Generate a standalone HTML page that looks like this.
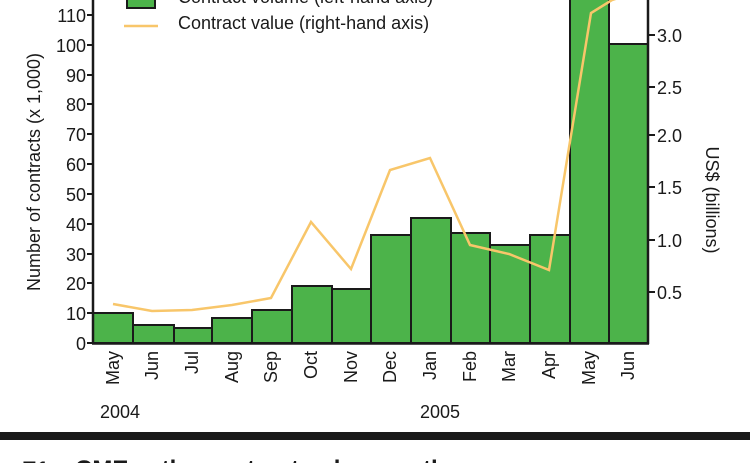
<!DOCTYPE html>
<html><head><meta charset="utf-8"><style>
html,body{margin:0;padding:0;background:#fff;width:750px;height:463px;overflow:hidden}
svg text{font-family:"Liberation Sans",sans-serif;fill:#1a1a1a}
</style></head><body>
<svg width="750" height="463" viewBox="0 0 750 463" xmlns="http://www.w3.org/2000/svg">
<rect width="750" height="463" fill="#fff"/>
<g fill="#4cb34a" stroke="#1a1a1a" stroke-width="2">
<rect x="93" y="313" width="40" height="30"/>
<rect x="133" y="325" width="41" height="18"/>
<rect x="174" y="328" width="38" height="15"/>
<rect x="212" y="318" width="40" height="25"/>
<rect x="252" y="310" width="40" height="33"/>
<rect x="292" y="286" width="40" height="57"/>
<rect x="332" y="289" width="39" height="54"/>
<rect x="371" y="235" width="40" height="108"/>
<rect x="411" y="218" width="40" height="125"/>
<rect x="451" y="233" width="39" height="110"/>
<rect x="490" y="245" width="40" height="98"/>
<rect x="530" y="235" width="40" height="108"/>
<rect x="570" y="-5" width="39" height="348"/>
<rect x="609" y="44" width="39" height="299"/>
<rect x="609" y="-5" width="39" height="49" fill="#fff"/>
</g>
<polyline fill="none" stroke="#f8c66a" stroke-width="2.5" points="113,304 152,311 192,310 232,305 271,298 311,222 351,269 390,170 430,158 470,245 509,254 549,270 591,13 612,0 628,-5"/>
<line x1="93" y1="0" x2="93" y2="344" stroke="#1a1a1a" stroke-width="2.5"/>
<line x1="92" y1="343.5" x2="649" y2="343.5" stroke="#1a1a1a" stroke-width="2.5"/>
<line x1="648" y1="0" x2="648" y2="344" stroke="#1a1a1a" stroke-width="2.5"/>
<g stroke="#1a1a1a" stroke-width="2">
<line x1="87" y1="343" x2="93" y2="343"/><line x1="87" y1="313" x2="93" y2="313"/><line x1="87" y1="283" x2="93" y2="283"/><line x1="87" y1="254" x2="93" y2="254"/><line x1="87" y1="224" x2="93" y2="224"/><line x1="87" y1="194" x2="93" y2="194"/><line x1="87" y1="164" x2="93" y2="164"/><line x1="87" y1="134" x2="93" y2="134"/><line x1="87" y1="104" x2="93" y2="104"/><line x1="87" y1="75" x2="93" y2="75"/><line x1="87" y1="45" x2="93" y2="45"/><line x1="87" y1="15" x2="93" y2="15"/>
<line x1="648" y1="292" x2="655" y2="292"/><line x1="648" y1="240" x2="655" y2="240"/><line x1="648" y1="187" x2="655" y2="187"/><line x1="648" y1="135" x2="655" y2="135"/><line x1="648" y1="87" x2="655" y2="87"/><line x1="648" y1="35" x2="655" y2="35"/>
</g>
<g font-size="18" text-anchor="end">
<text x="86" y="350">0</text><text x="86" y="320">10</text><text x="86" y="290">20</text><text x="86" y="261">30</text><text x="86" y="231">40</text><text x="86" y="201">50</text><text x="86" y="171">60</text><text x="86" y="141">70</text><text x="86" y="111">80</text><text x="86" y="82">90</text><text x="86" y="52">100</text><text x="86" y="22">110</text>
</g>
<g font-size="18">
<text x="657" y="299">0.5</text><text x="657" y="247">1.0</text><text x="657" y="194">1.5</text><text x="657" y="142">2.0</text><text x="657" y="94">2.5</text><text x="657" y="42">3.0</text>
</g>
<text transform="translate(40,172) rotate(-90)" font-size="18" text-anchor="middle">Number of contracts (x 1,000)</text>
<text transform="translate(706,200) rotate(90)" font-size="18" text-anchor="middle">US$ (billions)</text>
<g font-size="18" text-anchor="end">
<text transform="translate(119,351) rotate(-90)">May</text>
<text transform="translate(158,351) rotate(-90)">Jun</text>
<text transform="translate(198,351) rotate(-90)">Jul</text>
<text transform="translate(238,351) rotate(-90)">Aug</text>
<text transform="translate(277,351) rotate(-90)">Sep</text>
<text transform="translate(317,351) rotate(-90)">Oct</text>
<text transform="translate(357,351) rotate(-90)">Nov</text>
<text transform="translate(396,351) rotate(-90)">Dec</text>
<text transform="translate(436,351) rotate(-90)">Jan</text>
<text transform="translate(476,351) rotate(-90)">Feb</text>
<text transform="translate(515,351) rotate(-90)">Mar</text>
<text transform="translate(555,351) rotate(-90)">Apr</text>
<text transform="translate(595,351) rotate(-90)">May</text>
<text transform="translate(634,351) rotate(-90)">Jun</text>
</g>
<text x="100" y="418" font-size="18">2004</text>
<text x="420" y="418" font-size="18">2005</text>
<rect x="127" y="-10" width="28" height="18" fill="#4cb34a" stroke="#1a1a1a" stroke-width="2"/>
<text x="178" y="3" font-size="18">Contract volume (left-hand axis)</text>
<line x1="124" y1="26" x2="158" y2="26" stroke="#f8c66a" stroke-width="2.5"/>
<text x="178" y="29" font-size="18">Contract value (right-hand axis)</text>
<rect x="0" y="432" width="750" height="8" fill="#1a1a1a"/>
<text x="22" y="477" font-size="22" font-weight="bold" fill="#6cc7a8">E1</text>
<text x="75" y="477" font-size="24" font-weight="bold">CME ... the contract volume ... the</text>
</svg>
</body></html>
